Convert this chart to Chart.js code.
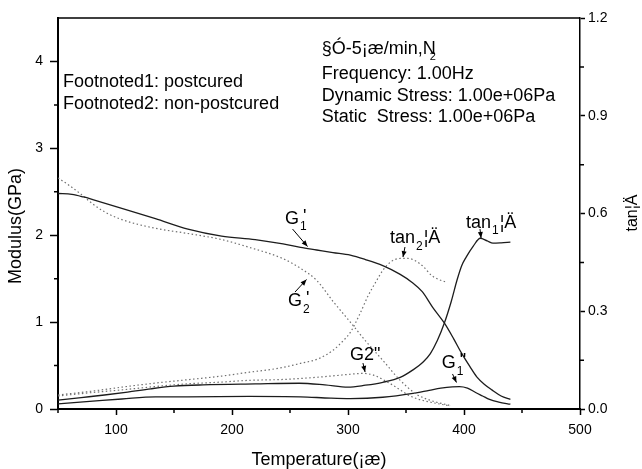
<!DOCTYPE html>
<html>
<head>
<meta charset="utf-8">
<title>DMA</title>
<script src="https://cdn.jsdelivr.net/npm/chart.js@4.4.1/dist/chart.umd.min.js"></script>
<style>
  html, body { margin: 0; padding: 0; background: #fff; }
  #wrap { width: 642px; height: 469px; }
</style>
</head>
<body>
<div id="wrap"><canvas id="chart" width="642" height="469"></canvas></div>
<script>
(function () {
  "use strict";

  var FONT = "'Liberation Sans', Arial, Helvetica, sans-serif";

  // axis ticks
  var xTicks = [100, 200, 300, 400, 500];
  var xMinorTicks = [50, 150, 250, 350, 450];
  var modulusTicks = [0, 1, 2, 3, 4];
  var modulusMinorTicks = [0.5, 1.5, 2.5, 3.5];
  var tanTicks = [0, 0.3, 0.6, 0.9, 1.2];
  var tanMinorTicks = [0.15, 0.45, 0.75, 1.05];

  // [temperature, value] pairs; modulus in GPa, tan delta dimensionless
  var g1Storage = [
    [50, 2.48], [62, 2.47], [72, 2.44], [80, 2.41], [105, 2.31], [134, 2.19],
    [162, 2.07], [191, 1.99], [220, 1.95], [244, 1.90], [259, 1.86], [273, 1.83],
    [287, 1.80], [302, 1.77], [315, 1.72], [330, 1.65], [345, 1.55], [355, 1.46],
    [364, 1.35], [373, 1.17], [383, 0.99], [391, 0.81], [398, 0.64], [405, 0.49],
    [411, 0.37], [418, 0.28], [424, 0.22], [432, 0.15], [440, 0.11]
  ];
  var g2Storage = [
    [50, 2.66], [60, 2.57], [70, 2.47], [80, 2.36], [90, 2.27], [105, 2.18],
    [134, 2.08], [162, 2.02], [191, 1.95], [215, 1.86], [244, 1.73], [259, 1.62],
    [273, 1.48], [287, 1.24], [302, 1.00], [316, 0.77], [330, 0.56], [345, 0.33],
    [359, 0.17], [371, 0.10], [388, 0.04]
  ];
  var g1Loss = [
    [50, 0.06], [80, 0.09], [105, 0.115], [134, 0.14], [162, 0.14], [215, 0.145],
    [259, 0.14], [285, 0.125], [302, 0.12], [330, 0.135], [356, 0.18], [370, 0.215],
    [380, 0.24], [390, 0.255], [396, 0.257], [403, 0.24], [410, 0.19], [416, 0.15],
    [422, 0.11], [430, 0.08], [440, 0.055]
  ];
  var g2Loss = [
    [50, 0.15], [80, 0.19], [105, 0.22], [135, 0.26], [162, 0.29], [191, 0.31],
    [215, 0.33], [244, 0.34], [273, 0.365], [290, 0.385], [302, 0.40], [313, 0.41],
    [322, 0.39], [330, 0.34], [338, 0.28], [345, 0.22], [352, 0.16], [359, 0.12],
    [367, 0.09], [376, 0.065], [388, 0.035]
  ];
  var tan1 = [
    [50, 0.027], [70, 0.035], [90, 0.043], [110, 0.052], [130, 0.062], [150, 0.070],
    [175, 0.074], [220, 0.077], [258, 0.079], [280, 0.074], [300, 0.067], [315, 0.073],
    [330, 0.082], [345, 0.097], [356, 0.12], [365, 0.145], [371, 0.17], [377, 0.21],
    [383, 0.263], [389, 0.33], [394, 0.396], [398, 0.44], [402, 0.467], [408, 0.50],
    [414, 0.524], [420, 0.516], [425, 0.509], [432, 0.510], [440, 0.512]
  ];
  var tan2 = [
    [50, 0.043], [80, 0.055], [105, 0.067], [135, 0.08], [162, 0.09], [191, 0.101],
    [215, 0.113], [240, 0.125], [259, 0.14], [275, 0.155], [287, 0.18], [296, 0.21],
    [302, 0.235], [310, 0.29], [317, 0.345], [324, 0.39], [330, 0.425], [337, 0.452],
    [345, 0.462], [352, 0.462], [358, 0.455], [365, 0.437], [372, 0.41], [378, 0.398],
    [384, 0.39]
  ];

  // curve labels, placed in (temperature, modulus) coordinates
  var curveNotes = [
    { main: "G", sub: "1", tail: "'", at: [245.7, 2.186], arrow: [[252.2, 2.071], [265.1, 1.870]] },
    { main: "G", sub: "2", tail: "'", at: [248.3, 1.237], arrow: [[254.3, 1.346], [264.2, 1.490]] },
    { main: "tan", sub: "2", tail: "\u00a6\u00c4", after: true, at: [336.2, 1.962], arrow: [[349.1, 1.864], [347.4, 1.749]] },
    { main: "tan", sub: "1", tail: "\u00a6\u00c4", after: true, at: [401.7, 2.146], arrow: [[413.8, 2.071], [414.7, 1.968]] },
    { main: "G2\"", at: [301.7, 0.621], arrow: [[312.9, 0.529], [314.7, 0.426]] },
    { main: "G", sub: "1", tail: "\"", at: [380.8, 0.526], arrow: [[390.1, 0.403], [393.5, 0.305]] }
  ];

  var sampleNotes = [
    { text: "Footnoted1: postcured", at: [54.3, 3.763] },
    { text: "Footnoted2: non-postcured", at: [54.3, 3.51] },
    { text: "\u00a7\u00d3-5\u00a1\u00e6/min,N", sub: "2", at: [277.3, 4.143] },
    { text: "Frequency: 1.00Hz", at: [277.3, 3.855] },
    { text: "Dynamic Stress: 1.00e+06Pa", at: [277.3, 3.602] },
    { text: "Static  Stress: 1.00e+06Pa", at: [277.3, 3.36] }
  ];

  function toPoints(pairs) {
    return pairs.map(function (p) { return { x: p[0], y: p[1] }; });
  }

  function line(label, pairs, axis, dotted) {
    return {
      label: label,
      data: toPoints(pairs),
      yAxisID: axis,
      borderColor: dotted ? "#707070" : "#1c1c1c",
      borderWidth: dotted ? 1.2 : 1.3,
      borderDash: dotted ? [1.5, 2.5] : [],
      pointRadius: 0,
      fill: false,
      cubicInterpolationMode: "monotone"
    };
  }

  function arrow(ctx, x1, y1, x2, y2) {
    var ang = Math.atan2(y2 - y1, x2 - x1);
    ctx.beginPath();
    ctx.moveTo(x1, y1);
    ctx.lineTo(x2, y2);
    ctx.stroke();
    ctx.beginPath();
    ctx.moveTo(x2, y2);
    ctx.lineTo(x2 - 6 * Math.cos(ang) + 2.5 * Math.sin(ang), y2 - 6 * Math.sin(ang) - 2.5 * Math.cos(ang));
    ctx.lineTo(x2 - 6 * Math.cos(ang) - 2.5 * Math.sin(ang), y2 - 6 * Math.sin(ang) + 2.5 * Math.cos(ang));
    ctx.closePath();
    ctx.fill();
  }

  var notesPlugin = {
    id: "notes",
    afterDatasetsDraw: function (chart) {
      var ctx = chart.ctx;
      var sx = chart.scales.x, sy = chart.scales.y;
      ctx.save();
      ctx.fillStyle = "#000";
      ctx.strokeStyle = "#000";
      ctx.lineWidth = 1;
      ctx.textAlign = "left";
      ctx.textBaseline = "middle";

      sampleNotes.forEach(function (n) {
        var x = sx.getPixelForValue(n.at[0]);
        var y = sy.getPixelForValue(n.at[1]);
        ctx.font = "18px " + FONT;
        ctx.fillText(n.text, x, y);
        if (n.sub) {
          var w = ctx.measureText(n.text).width;
          ctx.font = "11px " + FONT;
          ctx.fillText(n.sub, x + w - 6, y + 8);
        }
      });

      curveNotes.forEach(function (n) {
        var x = sx.getPixelForValue(n.at[0]);
        var y = sy.getPixelForValue(n.at[1]);
        ctx.font = "18px " + FONT;
        ctx.fillText(n.main, x, y);
        var w = ctx.measureText(n.main).width;
        if (n.sub) {
          ctx.font = "12px " + FONT;
          ctx.fillText(n.sub, x + w + 1, y + 8);
          var sw = ctx.measureText(n.sub).width;
          ctx.font = "18px " + FONT;
          ctx.fillText(n.tail, n.after ? x + w + sw + 2 : x + w + 4, n.after ? y : y - 2);
        }
        arrow(ctx,
          sx.getPixelForValue(n.arrow[0][0]), sy.getPixelForValue(n.arrow[0][1]),
          sx.getPixelForValue(n.arrow[1][0]), sy.getPixelForValue(n.arrow[1][1]));
      });
      ctx.restore();
    },
    afterDraw: function (chart) {
      var ctx = chart.ctx, a = chart.chartArea;
      var sx = chart.scales.x, sy = chart.scales.y, st = chart.scales.y2;
      ctx.save();
      ctx.strokeStyle = "#000";
      ctx.lineWidth = 1.5;
      ctx.beginPath();
      ctx.moveTo(a.left, a.top);
      ctx.lineTo(a.right, a.top);
      xMinorTicks.forEach(function (v) {
        var px = sx.getPixelForValue(v);
        ctx.moveTo(px, a.bottom);
        ctx.lineTo(px, a.bottom + 4);
      });
      modulusMinorTicks.forEach(function (v) {
        var py = sy.getPixelForValue(v);
        ctx.moveTo(a.left, py);
        ctx.lineTo(a.left - 4, py);
      });
      tanMinorTicks.forEach(function (v) {
        var py = st.getPixelForValue(v);
        ctx.moveTo(a.right, py);
        ctx.lineTo(a.right + 4, py);
      });
      ctx.stroke();

      // rotated side titles, both reading bottom to top
      ctx.fillStyle = "#000";
      ctx.textAlign = "center";
      ctx.textBaseline = "middle";
      ctx.font = "18px " + FONT;
      ctx.translate(16.5, 226);
      ctx.rotate(-Math.PI / 2);
      ctx.fillText("Modulus(GPa)", 0, 0);
      ctx.setTransform(1, 0, 0, 1, 0, 0);
      ctx.font = "16px " + FONT;
      ctx.translate(633, 213);
      ctx.rotate(-Math.PI / 2);
      ctx.fillText("tan\u00a6\u00c4", 0, 0);
      ctx.restore();
    }
  };

  function fixedTicks(values) {
    return function (scale) {
      scale.ticks = values.map(function (v) { return { value: v }; });
    };
  }

  function axisGrid(len, width) {
    return {
      display: true,
      drawOnChartArea: false,
      drawTicks: true,
      tickLength: len,
      tickColor: "#000",
      tickWidth: width
    };
  }

  function init() {
    var canvas = document.getElementById("chart");
    if (!canvas || typeof Chart === "undefined") {
      return;
    }
    new Chart(canvas, {
      type: "line",
      data: {
        datasets: [
          line("G1'", g1Storage, "y", false),
          line("G2'", g2Storage, "y", true),
          line("G1\"", g1Loss, "y", false),
          line("G2\"", g2Loss, "y", true),
          line("tan1", tan1, "y2", false),
          line("tan2", tan2, "y2", true)
        ]
      },
      options: {
        responsive: false,
        devicePixelRatio: 1,
        animation: false,
        layout: { padding: { top: 18, left: 0, right: 0, bottom: 0 } },
        plugins: {
          legend: { display: false },
          tooltip: { enabled: false }
        },
        scales: {
          x: {
            type: "linear",
            min: 50,
            max: 500,
            afterBuildTicks: fixedTicks(xTicks),
            afterFit: function (s) { s.height = 60; },
            grid: axisGrid(6, 1.5),
            border: { display: true, color: "#000", width: 2 },
            ticks: {
              color: "#000",
              font: { family: FONT, size: 14 },
              padding: 7,
              maxRotation: 0,
              autoSkip: false
            },
            title: {
              display: true,
              text: "Temperature(\u00a1\u00e6)",
              color: "#000",
              font: { family: FONT, size: 18, lineHeight: 1 },
              padding: { top: 0, bottom: 0 }
            }
          },
          y: {
            position: "left",
            min: 0,
            max: 4.5,
            afterBuildTicks: fixedTicks(modulusTicks),
            afterFit: function (s) { s.width = 58; },
            grid: axisGrid(8, 1.5),
            border: { display: true, color: "#000", width: 2 },
            ticks: {
              color: "#000",
              font: { family: FONT, size: 14 },
              padding: 7
            }
          },
          y2: {
            position: "right",
            min: 0,
            max: 1.2,
            afterBuildTicks: fixedTicks(tanTicks),
            afterFit: function (s) { s.width = 62; },
            grid: axisGrid(5, 1.5),
            border: { display: true, color: "#000", width: 1.5 },
            ticks: {
              color: "#000",
              font: { family: FONT, size: 14 },
              padding: 3,
              callback: function (v) { return Number(v).toFixed(1); }
            }
          }
        }
      },
      plugins: [notesPlugin]
    });
  }

  if (document.readyState === "loading") {
    document.addEventListener("DOMContentLoaded", init);
  } else {
    init();
  }
})();
</script>
</body>
</html>
